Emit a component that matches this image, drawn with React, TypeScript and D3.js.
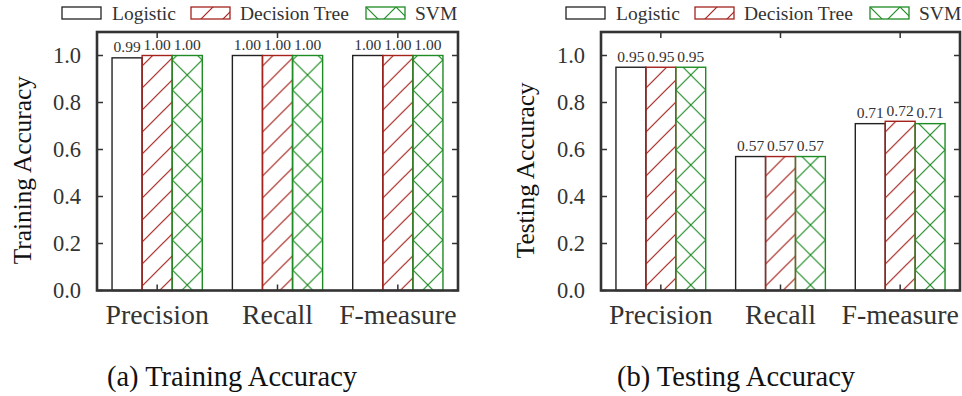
import React from "react";
import * as d3 from "d3";

// Classifier comparison: training vs testing scores
const categories = ["Precision", "Recall", "F-measure"];
const seriesNames = ["Logistic", "Decision Tree", "SVM"];

const trainLogistic = [0.99, 1.0, 1.0];
const trainTree = [1.0, 1.0, 1.0];
const trainSVM = [1.0, 1.0, 1.0];

const testLogistic = [0.95, 0.57, 0.71];
const testTree = [0.95, 0.57, 0.72];
const testSVM = [0.95, 0.57, 0.71];

const yTicks = [0, 0.2, 0.4, 0.6, 0.8, 1.0];

const W = 962;
const H = 396;
const FONT = "'Liberation Serif', 'Times New Roman', serif";
const INK = "#333";
const RED = "#a3221c";
const GREEN = "#1f8b24";

const styles = [
  { stroke: "#222", fill: "#fff" },
  { stroke: RED, fill: "url(#hatchRed)" },
  { stroke: GREEN, fill: "url(#crossGreen)" },
];

type PanelProps = {
  x0: number;
  x1: number;
  series: number[][];
  yLabel: string;
  yLabelX: number;
  caption: string;
  captionX: number;
};

function Legend({ shift }: { shift: number }) {
  const boxX = [62, 191, 366];
  const textX = [112, 240, 415];
  return (
    <g>
      {seriesNames.map((name, i) => (
        <g key={name}>
          <g transform={`translate(${boxX[i] + shift},7)`}>
            <rect x={0} y={0} width={39} height={12} fill={styles[i].fill} stroke={styles[i].stroke} strokeWidth={1.3} />
          </g>
          <text x={textX[i] + shift} y={20} fontFamily={FONT} fontSize={19.5} fill={INK}>
            {name}
          </text>
        </g>
      ))}
    </g>
  );
}

function Panel({ x0, x1, series, yLabel, yLabelX, caption, captionX }: PanelProps) {
  const top = 32;
  const bottom = 290.5;
  const x = d3.scaleBand<string>().domain(categories).range([x0, x1]).paddingInner(0.25).paddingOuter(0.125);
  const xSub = d3.scaleBand<number>().domain([0, 1, 2]).range([0, x.bandwidth()]);
  const y = d3.scaleLinear().domain([0, 1.1]).range([bottom, top]);
  const tickLen = 6;

  return (
    <g>
      <Legend shift={x0 - 97} />
      {/* bars */}
      {categories.map((cat, ci) =>
        series.map((vals, si) => {
          const bx = (x(cat) as number) + (xSub(si) as number);
          const bw = xSub.bandwidth();
          const v = vals[ci];
          return (
            <g key={`${cat}-${si}`}>
              <g transform={`translate(${bx},0)`}>
                <rect
                  x={0}
                  y={y(v)}
                  width={bw}
                  height={bottom - y(v)}
                  fill={styles[si].fill}
                  stroke={styles[si].stroke}
                  strokeWidth={1.4}
                />
              </g>
              <text
                x={bx + bw / 2}
                y={y(v) - 5.5}
                textAnchor="middle"
                fontFamily={FONT}
                fontSize={15.5}
                fill={INK}
              >
                {d3.format(".2f")(v)}
              </text>
            </g>
          );
        })
      )}
      {/* y ticks, mirrored on the right */}
      {yTicks.map((t) => (
        <g key={t}>
          <line x1={x0} x2={x0 + tickLen} y1={y(t)} y2={y(t)} stroke={INK} strokeWidth={1.5} />
          <line x1={x1} x2={x1 - tickLen} y1={y(t)} y2={y(t)} stroke={INK} strokeWidth={1.5} />
          <text
            x={x0 - 16}
            y={y(t)}
            dy="0.35em"
            textAnchor="end"
            fontFamily={FONT}
            fontSize={22.5}
            fill={INK}
          >
            {d3.format(".1f")(t)}
          </text>
        </g>
      ))}
      {/* x ticks top and bottom */}
      {categories.map((cat) => {
        const cx = (x(cat) as number) + x.bandwidth() / 2;
        return (
          <g key={cat}>
            <line x1={cx} x2={cx} y1={bottom} y2={bottom - tickLen} stroke={INK} strokeWidth={1.5} />
            <line x1={cx} x2={cx} y1={top} y2={top + tickLen} stroke={INK} strokeWidth={1.5} />
            <text x={cx} y={324} textAnchor="middle" fontFamily={FONT} fontSize={27.8} fill={INK}>
              {cat}
            </text>
          </g>
        );
      })}
      {/* frame */}
      <rect x={x0} y={top} width={x1 - x0} height={bottom - top} fill="none" stroke={INK} strokeWidth={2.6} />
      <text
        transform={`translate(${yLabelX},${(top + bottom) / 2 + 9}) rotate(-90)`}
        textAnchor="middle"
        fontFamily={FONT}
        fontSize={25.3}
        fill="#111"
      >
        {yLabel}
      </text>
      <text x={captionX} y={386} textAnchor="middle" fontFamily={FONT} fontSize={28.5} fill="#111">
        {caption}
      </text>
    </g>
  );
}

export default function App() {
  return (
    <svg width={W} height={H} style={{ display: "block", position: "absolute", left: 0, top: 0 }}>
      <defs>
        <pattern id="hatchRed" patternUnits="userSpaceOnUse" width={22} height={22}>
          <path d="M0,22 L22,0 M-3,3 L3,-3 M19,25 L25,19" stroke={RED} strokeWidth={1.2} fill="none" />
        </pattern>
        <pattern id="crossGreen" patternUnits="userSpaceOnUse" width={30} height={30}>
          <path
            d="M0,30 L30,0 M0,0 L30,30 M-3,3 L3,-3 M27,33 L33,27 M-3,27 L3,33 M27,-3 L33,3"
            stroke={GREEN}
            strokeWidth={1.2}
            fill="none"
          />
        </pattern>
      </defs>
      <rect x={0} y={0} width={W} height={H} fill="#fff" />
      <Panel
        x0={97}
        x1={458}
        series={[trainLogistic, trainTree, trainSVM]}
        yLabel="Training Accuracy"
        yLabelX={31}
        caption="(a) Training Accuracy"
        captionX={232}
      />
      <Panel
        x0={601}
        x1={960}
        series={[testLogistic, testTree, testSVM]}
        yLabel="Testing Accuracy"
        yLabelX={534}
        caption="(b) Testing Accuracy"
        captionX={736}
      />
    </svg>
  );
}
